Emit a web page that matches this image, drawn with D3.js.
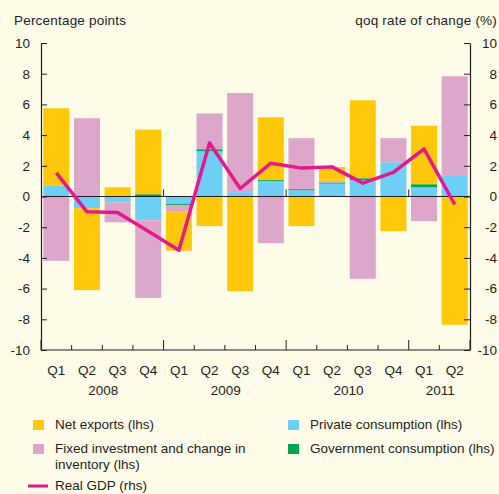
<!DOCTYPE html>
<html>
<head>
<meta charset="utf-8">
<script src="https://cdn.jsdelivr.net/npm/d3@7"></script>
<style>
  body { margin: 0; background: #fffbe9; }
  svg text { font-family: "Liberation Sans", Arial, sans-serif; fill: #231f20; }
</style>
</head>
<body>
<div id="chart"></div>
<script>
const quarters = ["Q1", "Q2", "Q3", "Q4", "Q1", "Q2", "Q3", "Q4", "Q1", "Q2", "Q3", "Q4", "Q1", "Q2"];
const years = ["2008", "2009", "2010", "2011"];
const yearOf = ["2008", "2008", "2008", "2008", "2009", "2009", "2009", "2009", "2010", "2010", "2010", "2010", "2011", "2011"];

// contributions, percentage points (lhs)
const privateCons = [0.69, -0.76, -0.38, -1.54, -0.48, 2.95, 0.28, 1.0, 0.41, 0.84, 1.06, 2.23, 0.6, 1.39];
const govCons = [0, 0, 0, 0.15, -0.07, 0.13, 0, 0.07, 0.07, 0.07, 0.13, 0, 0.2, 0];
const fixedInv = [-4.19, 5.1, -1.3, -5.06, -0.44, 2.33, 6.46, -3.04, 3.32, 0.12, -5.36, 1.57, -1.61, 6.44];
const netExports = [5.06, -5.34, 0.6, 4.21, -2.54, -1.93, -6.17, 4.09, -1.93, 0.89, 5.08, -2.26, 3.81, -8.36];
// qoq rate of change (rhs)
const realGDP = [1.54, -1.0, -1.04, -2.27, -3.5, 3.49, 0.52, 2.17, 1.85, 1.93, 0.87, 1.57, 3.1, -0.52];

const yTicks = [-10, -8, -6, -4, -2, 0, 2, 4, 6, 8, 10];

const width = 499;
const height = 494;
const plot = { left: 41, right: 470, top: 43, bottom: 350 };

const colors = {
    net: "#ffc80b",
    fixed: "#dda6cb",
    priv: "#6dcff6",
    gov: "#00a54f",
    gdp: "#e6198c"
};

const periods = quarters.map((q, i) => yearOf[i] + " " + q);
const table = periods.map((p, i) => ({
    period: p,
    priv: privateCons[i],
    gov: govCons[i],
    fixed: fixedInv[i],
    net: netExports[i]
}));

const svg = d3.select("#chart")
    .append("svg")
    .attr("width", width)
    .attr("height", height);

svg.append("rect")
    .attr("width", width)
    .attr("height", height)
    .attr("fill", "#fffbe9");

const x = d3.scaleBand()
    .domain(periods)
    .range([plot.left, plot.right])
    .paddingInner(0.15)
    .paddingOuter(0.075);
const y = d3.scaleLinear().domain([-10, 10]).range([plot.bottom, plot.top]);
const yR = d3.scaleLinear().domain([-10, 10]).range([plot.bottom, plot.top]);

const stack = d3.stack()
    .keys(["priv", "gov", "fixed", "net"])
    .offset(d3.stackOffsetDiverging);
const series = stack(table);

svg.append("g")
    .selectAll("g")
    .data(series)
    .join("g")
    .attr("fill", d => colors[d.key])
    .selectAll("rect")
    .data(d => d)
    .join("rect")
    .attr("x", d => x(d.data.period))
    .attr("width", x.bandwidth())
    .attr("y", d => y(Math.max(d[0], d[1])))
    .attr("height", d => Math.abs(y(d[0]) - y(d[1])));

// zero line
svg.append("line")
    .attr("x1", plot.left).attr("x2", plot.right)
    .attr("y1", y(0)).attr("y2", y(0))
    .attr("stroke", "#231f20")
    .attr("stroke-width", 1.2);

// year separators on zero line and bottom axis ticks
const step = x.step();
const boundaries = d3.range(quarters.length + 1);
const yearStarts = [4, 8, 12];

svg.append("g")
    .selectAll("line")
    .data(yearStarts)
    .join("line")
    .attr("x1", i => plot.left + i * step)
    .attr("x2", i => plot.left + i * step)
    .attr("y1", y(0))
    .attr("y2", y(0) - 7)
    .attr("stroke", "#231f20");

svg.append("line")
    .attr("x1", plot.left).attr("x2", plot.right)
    .attr("y1", plot.bottom).attr("y2", plot.bottom)
    .attr("stroke", "#231f20")
    .attr("stroke-width", 1.2);

svg.append("g")
    .selectAll("line")
    .data(boundaries)
    .join("line")
    .attr("x1", i => plot.left + i * step)
    .attr("x2", i => plot.left + i * step)
    .attr("y1", plot.bottom)
    .attr("y2", i => plot.bottom - (i % 4 === 0 || i === quarters.length ? 10 : 5))
    .attr("stroke", "#231f20");

// GDP line
const line = d3.line()
    .x((d, i) => x(periods[i]) + x.bandwidth() / 2)
    .y(d => yR(d));

svg.append("path")
    .datum(realGDP)
    .attr("fill", "none")
    .attr("stroke", colors.gdp)
    .attr("stroke-width", 3.5)
    .attr("stroke-linejoin", "round")
    .attr("d", line);

// y axes
const leftAxis = svg.append("g")
    .attr("transform", `translate(${plot.left},0)`)
    .call(d3.axisLeft(y).tickValues(yTicks).tickSizeInner(-6).tickSizeOuter(0).tickPadding(11));
const rightAxis = svg.append("g")
    .attr("transform", `translate(${plot.right},0)`)
    .call(d3.axisRight(yR).tickValues(yTicks).tickSizeInner(-6).tickSizeOuter(0).tickPadding(0));

[leftAxis, rightAxis].forEach(g => {
    g.select(".domain").attr("stroke", "#231f20").attr("stroke-width", 1.2);
    g.selectAll(".tick line").attr("stroke", "#231f20");
    g.selectAll("text")
        .style("font-size", "13.5px")
        .style("font-family", "'Liberation Sans', Arial, sans-serif")
        .attr("fill", "#231f20")
        .text(d => d < 0 ? "-" + Math.abs(d) : d);
});
rightAxis.selectAll("text")
    .attr("x", width - 2 - plot.right)
    .attr("text-anchor", "end");

// quarter and year labels
svg.append("g")
    .selectAll("text")
    .data(periods)
    .join("text")
    .attr("x", d => x(d) + x.bandwidth() / 2)
    .attr("y", 375)
    .attr("text-anchor", "middle")
    .style("font-size", "13.5px")
    .text((d, i) => quarters[i]);

svg.append("g")
    .selectAll("text")
    .data(years)
    .join("text")
    .attr("x", yr => {
        const idx = periods.filter(p => p.startsWith(yr));
        const x0 = x(idx[0]);
        const x1 = x(idx[idx.length - 1]) + x.bandwidth();
        return (x0 + x1) / 2 + 1;
    })
    .attr("y", 395)
    .attr("text-anchor", "middle")
    .style("font-size", "13.5px")
    .text(d => d);

// axis titles
svg.append("text")
    .attr("x", 14)
    .attr("y", 25)
    .style("font-size", "13.5px")
    .style("letter-spacing", "0.2px")
    .text("Percentage points");
svg.append("text")
    .attr("x", 497)
    .attr("y", 25)
    .attr("text-anchor", "end")
    .style("font-size", "13.5px")
    .style("letter-spacing", "0.2px")
    .text("qoq rate of change (%)");

// legend
const legendItems = [
    { key: "net", label: ["Net exports (lhs)"], x: 33, y: 420 },
    { key: "fixed", label: ["Fixed investment and change in", "inventory (lhs)"], x: 33, y: 444 },
    { key: "priv", label: ["Private consumption (lhs)"], x: 288, y: 420 },
    { key: "gov", label: ["Government consumption (lhs)"], x: 288, y: 444 }
];

const legend = svg.append("g");
legendItems.forEach(item => {
    legend.append("rect")
        .attr("x", item.x)
        .attr("y", item.y)
        .attr("width", 11)
        .attr("height", 10)
        .attr("fill", colors[item.key]);
    const t = legend.append("text")
        .attr("x", item.x + 22)
        .attr("y", item.y + 9)
        .style("font-size", "13.5px");
    item.label.forEach((s, i) => {
        t.append("tspan")
            .attr("x", item.x + 22)
            .attr("dy", i === 0 ? 0 : 16)
            .text(s);
    });
});

legend.append("line")
    .attr("x1", 28).attr("x2", 48)
    .attr("y1", 486).attr("y2", 486)
    .attr("stroke", colors.gdp)
    .attr("stroke-width", 3);
legend.append("text")
    .attr("x", 55)
    .attr("y", 490)
    .style("font-size", "13.5px")
    .text("Real GDP (rhs)");
</script>
</body>
</html>
